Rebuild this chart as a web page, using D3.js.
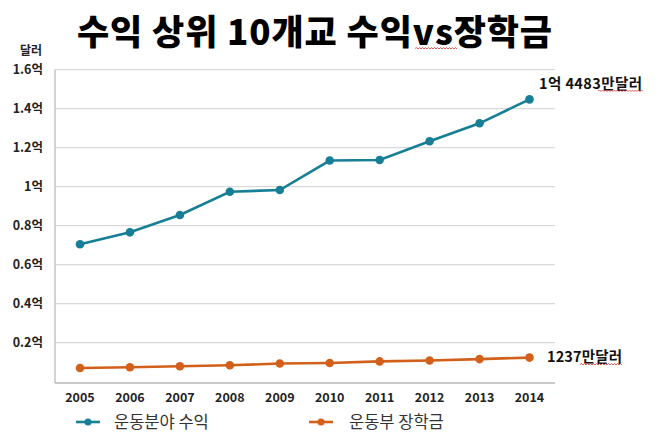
<!DOCTYPE html>
<html><head><meta charset="utf-8">
<script src="https://cdn.jsdelivr.net/npm/d3@7"></script>
<style>html,body{margin:0;padding:0;background:#fff;}</style>
</head><body>
<script>
const years = [2005,2006,2007,2008,2009,2010,2011,2012,2013,2014];
const revenue = [0.705,0.766,0.855,0.974,0.983,1.134,1.137,1.233,1.325,1.448];
const scholarship = [0.070,0.074,0.079,0.084,0.093,0.096,0.104,0.109,0.116,0.1237];
const yTicks = [0.2,0.4,0.6,0.8,1,1.2,1.4,1.6];
const yTickLabels = ["0.2억","0.4억","0.6억","0.8억","1억","1.2억","1.4억","1.6억"];
const seriesNames = ["운동분야 수익","운동부 장학금"];
const endLabels = ["1억 4483만달러","1237만달러"];
const titleText = "수익 상위 10개교 수익vs장학금";
const unitText = "달러";

const W=658,H=439;
const colors = ["#177f95","#d2601a"];
const font = "'Noto Sans CJK KR','Noto Sans',sans-serif";
const svg = d3.select("body").append("svg").attr("width",W).attr("height",H);
svg.append("rect").attr("width",W).attr("height",H).attr("fill","#fff");

const x = d3.scalePoint().domain(years).range([80,529.5]);
const y = d3.scaleLinear().domain([0,1.6]).range([381.7,69.7]);

function squiggle(x0,x1,yy){
  let d="M"+x0+","+yy; let up=true;
  for(let xx=x0+1.5; xx<=x1; xx+=1.5){ d+="L"+xx+","+(up?yy-1:yy+0.5); up=!up; }
  svg.append("path").attr("d",d).attr("fill","none").attr("stroke","#e03030").attr("stroke-width",0.8);
}

// gridlines
svg.append("g").selectAll("line").data(yTicks).join("line")
  .attr("x1",55).attr("x2",555).attr("y1",d=>y(d)).attr("y2",d=>y(d))
  .attr("stroke","#d9d9d9").attr("stroke-width",1.3);
// axes lines
svg.append("line").attr("x1",55).attr("x2",55).attr("y1",y(1.6)).attr("y2",383)
  .attr("stroke","#c4c4c4").attr("stroke-width",1.5);
svg.append("line").attr("x1",55).attr("x2",555).attr("y1",383).attr("y2",383)
  .attr("stroke","#b8b8b8").attr("stroke-width",1.5);

// y tick labels
svg.append("g").selectAll("text").data(yTicks).join("text")
  .attr("x",43).attr("y",d=>y(d)+4.5).attr("text-anchor","end")
  .attr("font-family",font).attr("font-weight",700).attr("font-size",12.5).attr("fill","#222")
  .text((d,i)=>yTickLabels[i]);
svg.append("text").attr("x",20).attr("y",55).attr("font-family",font).attr("font-weight",700)
  .attr("font-size",12).attr("fill","#222").text(unitText);

// x tick labels
svg.append("g").selectAll("text").data(years).join("text")
  .attr("x",d=>x(d)).attr("y",402).attr("text-anchor","middle")
  .attr("font-family",font).attr("font-weight",700).attr("font-size",12.5).attr("fill","#222")
  .text(d=>d);

// lines
const line = d3.line().x((d,i)=>x(years[i])).y(d=>y(d));
[revenue,scholarship].forEach((s,k)=>{
  svg.append("path").datum(s).attr("d",line).attr("fill","none")
    .attr("stroke",colors[k]).attr("stroke-width",2.6);
  svg.append("g").selectAll("circle").data(s).join("circle")
    .attr("cx",(d,i)=>x(years[i])).attr("cy",d=>y(d)).attr("r",4.3).attr("fill",colors[k]);
});

// end labels
svg.append("text").attr("x",539).attr("y",89).attr("font-family",font).attr("font-weight",700)
  .attr("font-size",14.5).attr("fill","#111").attr("textLength",103).text(endLabels[0]);
svg.append("text").attr("x",547).attr("y",362).attr("font-family",font).attr("font-weight",700)
  .attr("font-size",14.5).attr("fill","#111").attr("textLength",75).text(endLabels[1]);
squiggle(598,643,91);
squiggle(580,623,364.5);

// title
svg.append("text").attr("x",77).attr("y",45).attr("text-anchor","start")
  .attr("font-family",font).attr("font-weight",900).attr("font-size",35).attr("fill","#000")
  .attr("textLength",475).attr("lengthAdjust","spacing")
  .text(titleText);
squiggle(415,458,48.5);

// legend
const lg = svg.append("g");
[[76,114],[309,349]].forEach((p,k)=>{
  lg.append("line").attr("x1",p[0]).attr("x2",p[0]+24).attr("y1",422).attr("y2",422)
    .attr("stroke",colors[k]).attr("stroke-width",2.6);
  lg.append("circle").attr("cx",p[0]+12).attr("cy",422).attr("r",3.5).attr("fill",colors[k]);
  lg.append("text").attr("x",p[1]).attr("y",428).attr("font-family",font)
    .attr("font-size",16.5).attr("fill","#333").text(seriesNames[k]);
});
</script>
</body></html>
